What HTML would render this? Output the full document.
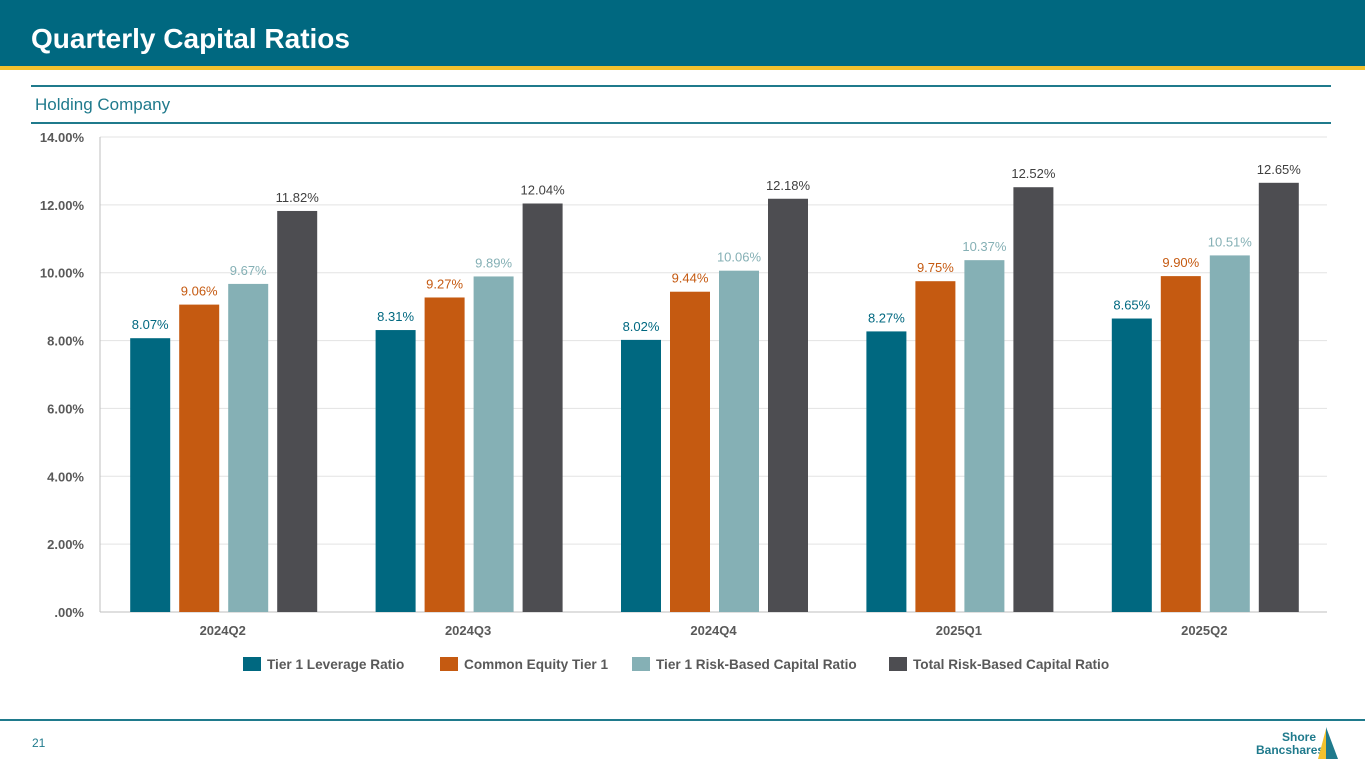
<!DOCTYPE html>
<html><head><meta charset="utf-8"><style>
body{margin:0;width:1365px;height:768px;overflow:hidden;background:#fff;font-family:"Liberation Sans",Arial,sans-serif;position:relative}
.hdr{position:absolute;left:0;top:0;width:1365px;height:66px;background:#006880}
.gold{position:absolute;left:0;top:66px;width:1365px;height:4px;background:#f2c12e}
.title{position:absolute;left:31px;top:23px;color:#fff;font-size:28px;font-weight:bold}
.rule{position:absolute;left:31px;width:1300px;height:2px;background:#1f7a8c}
.sub{position:absolute;left:35px;top:95px;color:#1f7a8c;font-size:17px}
</style></head><body>
<div class="hdr"></div>
<div class="gold"></div>
<div class="title">Quarterly Capital Ratios</div>
<div class="rule" style="top:85px"></div>
<div class="sub">Holding Company</div>
<div class="rule" style="top:122px"></div>
<svg id="chart" width="1365" height="768" style="position:absolute;left:0;top:0"></svg>
<div style="position:absolute;left:0;top:719px;width:1365px;height:2px;background:#1f7a8c"></div>
<div style="position:absolute;left:32px;top:736px;font-size:12px;color:#1f7a8c">21</div>
<div style="position:absolute;left:1256px;top:731px;font-size:12px;font-weight:bold;color:#1f7a8c;line-height:13px;text-align:right;width:60px">Shore<br>Bancshares</div>
<svg style="position:absolute;left:1316px;top:727px" width="24" height="34"><polygon points="10,0 22,32 10,32" fill="#1f7a8c"/><polygon points="10,2 10,32 2,32" fill="#f2c12e"/></svg>
<script>
const categories=["2024Q2","2024Q3","2024Q4","2025Q1","2025Q2"];
const seriesNames=["Tier 1 Leverage Ratio","Common Equity Tier 1","Tier 1 Risk-Based Capital Ratio","Total Risk-Based Capital Ratio"];
const tier1Leverage=[8.07,8.31,8.02,8.27,8.65];
const cet1=[9.06,9.27,9.44,9.75,9.90];
const tier1RiskBased=[9.67,9.89,10.06,10.37,10.51];
const totalRiskBased=[11.82,12.04,12.18,12.52,12.65];
const yTicks=[0,2,4,6,8,10,12,14];
const yTickLabels=[".00%","2.00%","4.00%","6.00%","8.00%","10.00%","12.00%","14.00%"];
const colors=["#006880","#c55a11","#85b0b5","#4d4d51"];
const labelColors=["#006880","#c55a11","#85b0b5","#404040"];
const svg=document.getElementById('chart');const NS="http://www.w3.org/2000/svg";
const x0=100,x1=1327,yTop=137,yBot=612,yMax=14;
const y=v=>yBot-(v/yMax)*(yBot-yTop);
const band=(x1-x0)/categories.length;
const cx=i=>x0+band*(i+0.5);
function mk(t,a,txt){const e=document.createElementNS(NS,t);for(const k in a)e.setAttribute(k,a[k]);if(txt!=null)e.textContent=txt;svg.appendChild(e);return e;}
yTicks.forEach((t,i)=>{
 const g=mk('line',{x1:x0,x2:x1,y1:y(t),y2:y(t),stroke:t===0?'#bfbfbf':'#e3e3e3','stroke-width':1});
 
 
 const l=mk('text',{x:84,y:y(t)+5,'text-anchor':'end','font-size':13,'font-weight':'bold',fill:'#595959'},yTickLabels[i]);
 
 
});
mk('line',{x1:x0,x2:x0,y1:yTop,y2:yBot,stroke:'#bfbfbf'});
const all=[tier1Leverage,cet1,tier1RiskBased,totalRiskBased];
const bw=40,step=49;
categories.forEach((c,i)=>{
 const l=mk('text',{x:cx(i),y:635,'text-anchor':'middle','font-size':13,'font-weight':'bold',fill:'#595959'},c);
 
 
 all.forEach((s,j)=>{
  const bx=cx(i)+(j-1.5)*step-bw/2+1;
  const r=mk('rect',{x:bx,y:y(s[i]),width:bw,height:yBot-y(s[i]),fill:colors[j]});
  
  
  const t=mk('text',{x:bx+bw/2,y:y(s[i])-9,'text-anchor':'middle','font-size':13,fill:labelColors[j]},s[i].toFixed(2)+'%');
  
  
 });
});
const legX=[243,440,632,889];
seriesNames.forEach((n,j)=>{
 const r=mk('rect',{x:legX[j],y:657,width:18,height:14,fill:colors[j]});
 
 
 const t=mk('text',{x:legX[j]+24,y:669,'font-size':13.6,'font-weight':'bold',fill:'#595959'},n);
 
 
});
</script>
</body></html>
